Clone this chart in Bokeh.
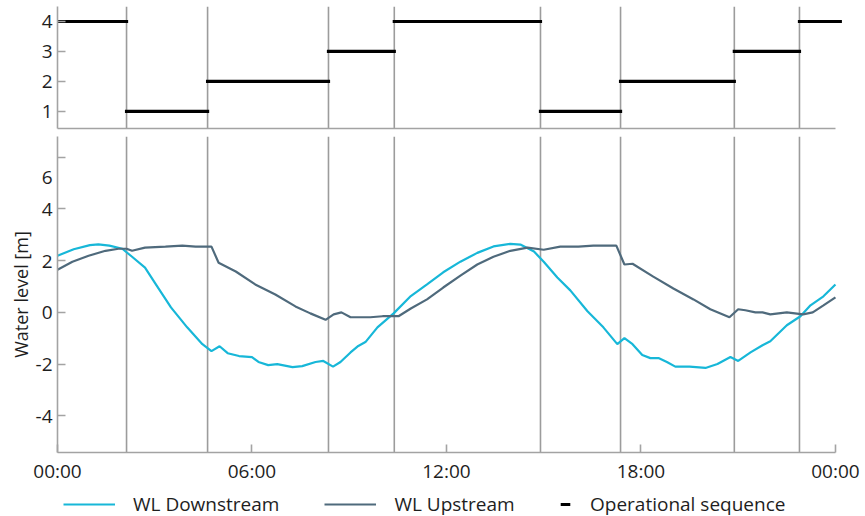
from bokeh.plotting import figure
from bokeh.layouts import column
from bokeh.models import Range1d, Span, FixedTicker, Legend, LegendItem
from bokeh.embed import file_html
from bokeh.resources import INLINE

# Time axis in hours since 00:00
hours_ds = [0, 0.5, 1.0, 1.26, 1.6, 2.0, 2.3, 2.7, 3.0, 3.5, 4.0, 4.47, 4.75, 5.0, 5.25,
            5.6, 6.0, 6.2, 6.5, 6.78, 7.25, 7.55, 7.96, 8.2, 8.5, 8.73, 9.04, 9.28, 9.5,
            9.87, 10.37, 10.9, 11.4, 11.9, 12.43, 12.95, 13.45, 13.97, 14.28, 14.7, 15.0,
            15.42, 15.82, 16.35, 16.84, 17.27, 17.49, 17.74, 18.04, 18.29, 18.54, 18.8,
            19.06, 19.5, 19.99, 20.36, 20.76, 21.0, 21.38, 21.75, 21.99, 22.5, 22.92,
            23.23, 23.63, 24.0]
wl_downstream = [2.19, 2.44, 2.6, 2.63, 2.58, 2.46, 2.15, 1.73, 1.15, 0.19, -0.58, -1.23,
                 -1.5, -1.31, -1.58, -1.69, -1.73, -1.92, -2.04, -2.0, -2.12, -2.08, -1.92,
                 -1.88, -2.1, -1.92, -1.55, -1.3, -1.15, -0.58, -0.04, 0.63, 1.08, 1.55,
                 1.96, 2.3, 2.55, 2.65, 2.62, 2.35, 1.96, 1.35, 0.85, 0.04, -0.58, -1.23,
                 -1.0, -1.23, -1.65, -1.77, -1.77, -1.92, -2.1, -2.1, -2.15, -2.0, -1.73,
                 -1.88, -1.55, -1.27, -1.12, -0.5, -0.15, 0.27, 0.62, 1.08]

hours_us = [0, 0.46, 0.96, 1.48, 1.88, 2.13, 2.3, 2.7, 3.33, 3.85, 4.26, 4.75, 4.97, 5.5,
            6.1, 6.72, 7.34, 7.8, 8.27, 8.52, 8.76, 9.04, 9.65, 10.03, 10.52, 10.9, 11.4,
            11.9, 12.43, 12.95, 13.45, 13.97, 14.5, 15.0, 15.51, 16.07, 16.53, 17.24,
            17.49, 17.74, 18.38, 19.0, 19.62, 20.14, 20.73, 21.0, 21.22, 21.53, 21.75,
            21.99, 22.5, 23.0, 23.3, 23.63, 24.0]
wl_upstream = [1.65, 1.96, 2.19, 2.38, 2.46, 2.46, 2.38, 2.5, 2.54, 2.58, 2.54, 2.54, 1.92,
               1.58, 1.08, 0.69, 0.23, -0.04, -0.29, -0.08, 0.0, -0.19, -0.19, -0.15,
               -0.15, 0.15, 0.5, 0.96, 1.42, 1.85, 2.15, 2.38, 2.5, 2.42, 2.54, 2.54, 2.58,
               2.58, 1.85, 1.88, 1.38, 0.92, 0.5, 0.12, -0.19, 0.12, 0.08, 0.0, 0.0, -0.08,
               0.0, -0.08, 0.0, 0.27, 0.58]

# Operational sequence: step number held between switching times
seq_start = [0, 2.13, 4.63, 8.36, 10.39, 14.90, 17.37, 20.88, 22.89]
seq_end = [2.13, 4.63, 8.36, 10.39, 14.90, 17.37, 20.88, 22.89, 24.15]
seq_step = [4, 1, 2, 3, 4, 1, 2, 3, 4]
switch_times = seq_start[1:]

time_ticks = [0, 6, 12, 18, 24]
time_labels = ["00:00", "06:00", "12:00", "18:00", "00:00"]
step_ticks = [1, 2, 3, 4]
level_ticks = [-4, -2, 0, 2, 4, 6]
level_labels = ["-4", "-2", "0", "2", "4", "\n6"]   # top label hangs below its tick

FONT = "Open Sans"
FS = "19px"
AXIS_GREY = "#a3a3a3"
LINE_GREY = "#9c9c9c"
CYAN = "#17b7d8"
SLATE = "#4f6a7c"
TEXT = "#1e1e1e"

x_range = Range1d(0, 24.31)


def style_common(p):
    p.outline_line_color = None
    p.xgrid.visible = False
    p.ygrid.visible = False
    p.background_fill_color = "white"
    p.border_fill_color = "white"
    for ax in (p.xaxis[0], p.yaxis[0]):
        ax.axis_line_color = AXIS_GREY
        ax.axis_line_width = 1.6
        ax.major_tick_line_color = AXIS_GREY
        ax.major_tick_line_width = 1.6
        ax.major_tick_in = 8
        ax.major_tick_out = 0
        ax.minor_tick_in = 0
        ax.minor_tick_out = 0
        ax.major_label_text_font = FONT
        ax.major_label_text_font_size = FS
        ax.major_label_text_color = TEXT
        ax.major_label_standoff = 5
    p.xaxis[0].bounds = (0, 24)
    for t in switch_times:
        p.add_layout(Span(location=t, dimension="height", line_color=LINE_GREY,
                          line_width=1.6, level="underlay"))


# --- upper panel: operational sequence ---
p1 = figure(width=865, height=132, x_range=x_range, y_range=Range1d(0.43, 4.5),
            output_backend="svg", toolbar_location=None,
            min_border_left=57, min_border_right=20, min_border_top=6, min_border_bottom=4)
style_common(p1)
p1.yaxis.ticker = FixedTicker(ticks=step_ticks)
p1.xaxis.ticker = FixedTicker(ticks=[])
p1.xaxis.major_label_text_font_size = "0px"
p1.xaxis.major_label_standoff = 0
p1.xaxis.major_tick_in = 0
p1.segment(x0=seq_start, x1=seq_end, y0=seq_step, y1=seq_step,
           line_color="black", line_width=3.2, line_cap="square")

# --- lower panel: water levels ---
p2 = figure(width=865, height=354, x_range=x_range, y_range=Range1d(-5.42, 6.8),
            output_backend="svg", toolbar_location=None,
            min_border_left=57, min_border_right=20, min_border_top=4, min_border_bottom=32)
style_common(p2)
p2.xaxis.ticker = FixedTicker(ticks=time_ticks)
p2.xaxis.major_label_overrides = {t: lab for t, lab in zip(time_ticks, time_labels)}
p2.yaxis.ticker = FixedTicker(ticks=level_ticks)
p2.yaxis.major_label_overrides = {t: lab for t, lab in zip(level_ticks, level_labels)}
p2.yaxis.axis_label = "Water level [m]"
p2.yaxis.axis_label_text_font = FONT
p2.yaxis.axis_label_text_font_size = "18px"
p2.yaxis.axis_label_text_font_style = "normal"
p2.yaxis.axis_label_text_color = TEXT
p2.yaxis.axis_label_standoff = 0

p2.line(hours_ds, wl_downstream, line_color=CYAN, line_width=2.2)
p2.line(hours_us, wl_upstream, line_color=SLATE, line_width=2.2)

# --- legend strip (key renderers are hidden; only their legend glyphs show) ---
p3 = figure(width=865, height=30, x_range=x_range, y_range=Range1d(0, 1),
            output_backend="svg", toolbar_location=None,
            x_axis_location=None, y_axis_location=None,
            min_border_left=57, min_border_right=20, min_border_top=0, min_border_bottom=0)
p3.outline_line_color = None
p3.xgrid.visible = False
p3.ygrid.visible = False
k_ds = p3.line(hours_ds, wl_downstream, line_color=CYAN, line_width=2.2, visible=False)
k_us = p3.line(hours_us, wl_upstream, line_color=SLATE, line_width=2.2, visible=False)
k_seq = p3.scatter(seq_start, seq_step, marker="dash", size=10,
                   line_color="black", fill_color="black", line_width=3, visible=False)

legend_style = dict(orientation="horizontal", glyph_height=24, padding=2, margin=0,
                    border_line_color=None, background_fill_alpha=0,
                    inactive_fill_alpha=0,
                    label_text_font=FONT, label_text_font_size=FS,
                    label_text_color=TEXT)

p3.add_layout(Legend(items=[LegendItem(label="WL Downstream", renderers=[k_ds]),
                            LegendItem(label="WL Upstream", renderers=[k_us])],
                     location=(6, -1), glyph_width=52, label_standoff=18, spacing=45,
                     **legend_style))
p3.add_layout(Legend(items=[LegendItem(label="Operational sequence", renderers=[k_seq])],
                     location=(496, -1), glyph_width=24, label_standoff=13,
                     **legend_style))

layout = column(p1, p2, p3)
open("out.html", "w").write(file_html(layout, INLINE))
